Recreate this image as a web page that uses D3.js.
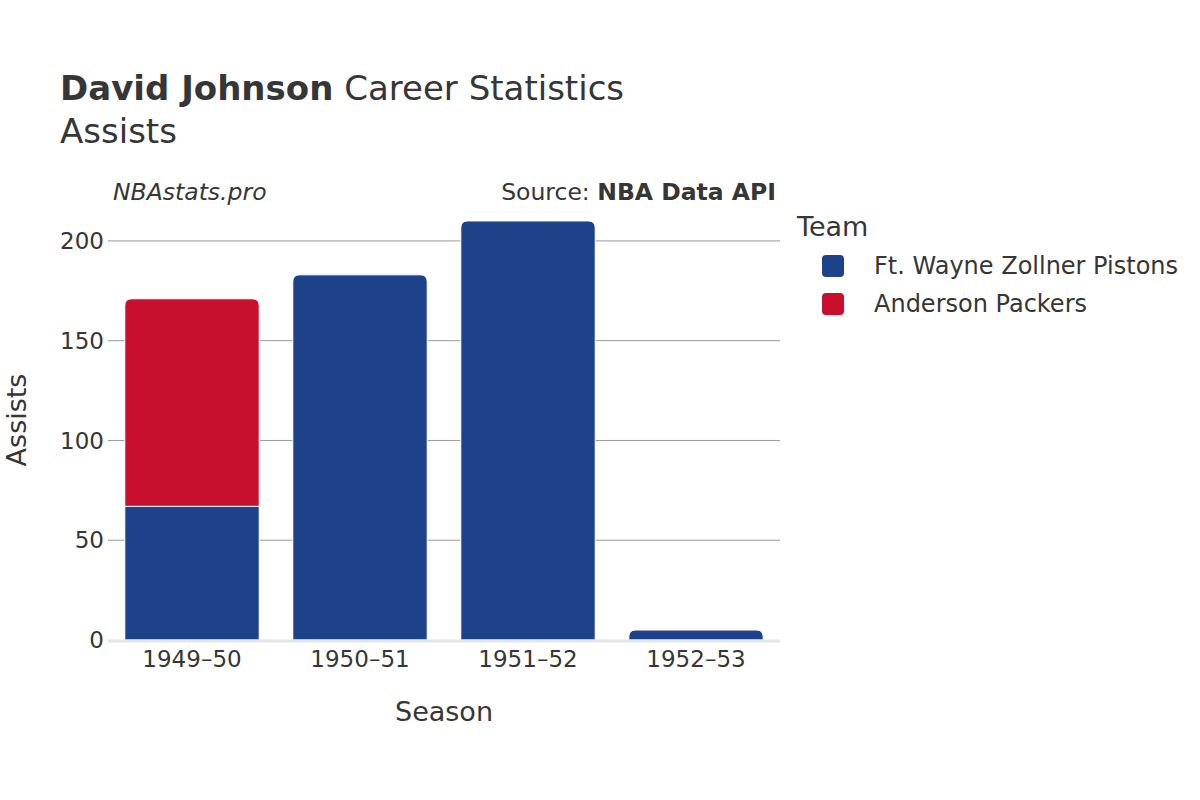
<!DOCTYPE html>
<html><head><meta charset="utf-8">
<script src="https://cdn.jsdelivr.net/npm/d3@7"></script>
<style>body{margin:0;background:#fff}svg{font-family:"DejaVu Sans",sans-serif}</style>
</head><body><svg id="c" width="1200" height="800"></svg>
<script>
const seasons = ["1949–50","1950–51","1951–52","1952–53"];
const teams = ["Ft. Wayne Zollner Pistons","Anderson Packers"];
const teamColors = ["#1d428a","#c8102e"];
const ftWayne = [67,183,210,5];
const anderson = [104,0,0,0];
const yTicks = [0,50,100,150,200];

const svg = d3.select("#c");
const m = {l:108, r:780, t:200, b:640};
const x = d3.scaleBand().domain(seasons).range([m.l,m.r]).paddingInner(0.2).paddingOuter(0.1);
const y = d3.scaleLinear().domain([0,220.5]).range([m.b,m.t]);
const txt = "#363636";

// grid
svg.append("g").selectAll("line").data(yTicks.filter(d=>d>0)).join("line")
  .attr("x1",m.l).attr("x2",m.r).attr("y1",d=>y(d)).attr("y2",d=>y(d))
  .attr("stroke","#999").attr("stroke-width",1);

const rows = seasons.map((s,i)=>({season:s, v:[ftWayne[i], anderson[i]]}));
const r = 7;
function barPath(x0,w,y0,y1,round){
  const h = y0-y1;
  if(h<=0) return "";
  const rr = round ? Math.min(r,h,w/2) : 0;
  return `M${x0},${y0}V${y1+rr}` + (rr?`Q${x0},${y1} ${x0+rr},${y1}`:"") +
    `H${x0+w-rr}` + (rr?`Q${x0+w},${y1} ${x0+w},${y1+rr}`:"") + `V${y0}Z`;
}
const g = svg.append("g");
rows.forEach(row=>{
  let base = 0;
  const last = row.v.reduce((a,v,i)=>v>0?i:a,-1);
  row.v.forEach((v,i)=>{
    if(v<=0) return;
    g.append("path")
      .attr("d",barPath(x(row.season),x.bandwidth(),y(base),y(base+v),i===last))
      .attr("fill",teamColors[i]).attr("stroke","#fff").attr("stroke-width",1);
    base += v;
  });
});

svg.append("line").attr("x1",m.l).attr("x2",m.r).attr("y1",y(0)+1).attr("y2",y(0)+1)
  .attr("stroke","#e5e5e5").attr("stroke-width",3);

svg.append("g").selectAll("text").data(yTicks).join("text")
  .attr("x",m.l-4).attr("y",d=>y(d)).attr("dy","0.35em").attr("text-anchor","end")
  .attr("font-size",23).attr("fill",txt).text(d=>d);
svg.append("g").selectAll("text").data(seasons).join("text")
  .attr("x",d=>x(d)+x.bandwidth()/2).attr("y",667).attr("text-anchor","middle")
  .attr("font-size",23).attr("fill",txt).text(d=>d);

svg.append("text").attr("x",444).attr("y",721).attr("text-anchor","middle")
  .attr("font-size",27).attr("fill",txt).text("Season");
svg.append("text").attr("transform","translate(26,420) rotate(-90)").attr("text-anchor","middle")
  .attr("font-size",27).attr("fill",txt).text("Assists");

const t = svg.append("text").attr("x",60).attr("y",100).attr("font-size",34).attr("fill",txt);
t.append("tspan").attr("font-weight","bold").text("David Johnson");
t.append("tspan").text(" Career Statistics");
svg.append("text").attr("x",60).attr("y",143).attr("font-size",34).attr("fill",txt).text("Assists");

svg.append("text").attr("x",113).attr("y",200).attr("font-size",23.5).attr("font-style","italic").attr("fill",txt).text("NBAstats.pro");
const s = svg.append("text").attr("x",776).attr("y",200).attr("text-anchor","end").attr("font-size",23.5).attr("fill",txt);
s.append("tspan").text("Source: ");
s.append("tspan").attr("font-weight","bold").text("NBA Data API");

svg.append("text").attr("x",797).attr("y",236).attr("font-size",27).attr("fill",txt).text("Team");
const lg = svg.append("g").selectAll("g").data(teams).join("g")
  .attr("transform",(d,i)=>`translate(822,${266+i*38})`);
lg.append("rect").attr("x",0).attr("y",-11).attr("width",22).attr("height",22).attr("rx",4)
  .attr("fill",(d,i)=>teamColors[i]);
lg.append("text").attr("x",52).attr("y",0).attr("dy","0.35em").attr("font-size",24).attr("fill",txt).text(d=>d);
</script></body></html>
